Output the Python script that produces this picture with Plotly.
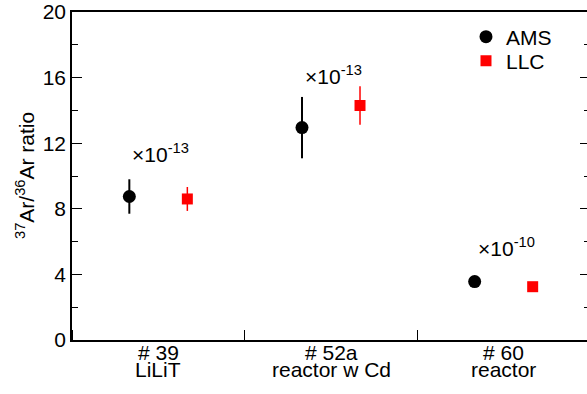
import plotly.graph_objects as go

# Data
samples = ["# 39", "# 52a", "# 60"]
descriptions = ["LiLiT", "reactor w Cd", "reactor"]
ams_values = [8.75, 12.95, 3.56]
ams_errors = [1.05, 1.87, 0.0]
llc_values = [8.6, 14.3, 3.25]
llc_errors = [0.73, 1.17, 0.0]
scale_labels = ["×10<sup>-13</sup>", "×10<sup>-13</sup>", "×10<sup>-10</sup>"]
scale_label_y = [11.4, 16.15, 5.67]

font_family = "Liberation Sans, Arial, Helvetica, sans-serif"
FS = 21
centers = [i + 0.5 for i in range(len(samples))]
offset = 0.168

fig = go.Figure()
fig.add_trace(go.Scatter(
    x=[c - offset for c in centers], y=ams_values, mode="markers", name="AMS",
    marker=dict(symbol="circle", size=13, color="black"),
    error_y=dict(type="data", array=ams_errors, color="black", thickness=2, width=0),
    legend="legend",
))
fig.add_trace(go.Scatter(
    x=[c + offset for c in centers], y=llc_values, mode="markers", name="LLC",
    marker=dict(symbol="square", size=11, color="red"),
    error_y=dict(type="data", array=llc_errors, color="red", thickness=1.5, width=0),
    legend="legend2",
))

annotations = []
for c, lab, yv in zip(centers, scale_labels, scale_label_y):
    annotations.append(dict(x=c - 0.162, y=yv, xref="x", yref="y", text=lab,
                            showarrow=False, xanchor="left", yanchor="middle",
                            font=dict(size=FS, color="black", family=font_family)))
for c, s, d in zip(centers, samples, descriptions):
    annotations.append(dict(x=c, y=0, xref="x", yref="paper", text=s, showarrow=False,
                            xanchor="center", yanchor="middle", yshift=-12.5,
                            font=dict(size=FS, color="black", family=font_family)))
    annotations.append(dict(x=c, y=0, xref="x", yref="paper", text=d, showarrow=False,
                            xanchor="center", yanchor="middle", yshift=-29.5,
                            font=dict(size=FS, color="black", family=font_family)))
annotations.append(dict(x=0, y=0.5, xref="paper", yref="paper",
                        text="<sup>37</sup>Ar/<sup>36</sup>Ar ratio", showarrow=False,
                        textangle=-90, xanchor="center", yanchor="middle", xshift=-47,
                        font=dict(size=FS, color="black", family=font_family)))

legend_common = dict(xanchor="left", yanchor="middle", bgcolor="rgba(0,0,0,0)",
                     font=dict(size=FS, family=font_family, color="black"),
                     itemsizing="trace")

# Figure is slightly wider than the window so the right frame line falls just outside,
# as in the reference.
fig.update_layout(
    width=590, height=394,
    margin=dict(l=72, r=0, t=12, b=54, autoexpand=False),
    paper_bgcolor="white", plot_bgcolor="white",
    font=dict(family=font_family, color="black"),
    showlegend=True,
    legend=dict(x=0.7606, y=0.9238, **legend_common),
    legend2=dict(x=0.7606, y=0.8506, **legend_common),
    annotations=annotations,
    xaxis=dict(range=[0, 3], showgrid=False, zeroline=False, automargin=False,
               tickvals=centers, ticktext=["" for _ in centers], ticks="",
               showline=True, linecolor="black", linewidth=1.5, mirror=True,
               minor=dict(dtick=1, tick0=0, ticks="inside", ticklen=10,
                          tickcolor="black", tickwidth=1.2)),
    yaxis=dict(range=[0, 20], tickvals=[0, 4, 8, 12, 16, 20], showgrid=False,
               zeroline=False, automargin=False, ticks="inside", ticklen=10, tickwidth=1.2,
               tickcolor="black", showline=True, linecolor="black", linewidth=1.5,
               mirror="ticks", tickfont=dict(size=FS, family=font_family),
               ticklabeloverflow="allow",
               minor=dict(dtick=2, tick0=0, ticks="inside", ticklen=6,
                          tickcolor="black", tickwidth=1)),
)

fig.write_html("out.html", config={"displayModeBar": False},
               post_script="document.body.style.margin='0';document.body.style.overflow='hidden';")
